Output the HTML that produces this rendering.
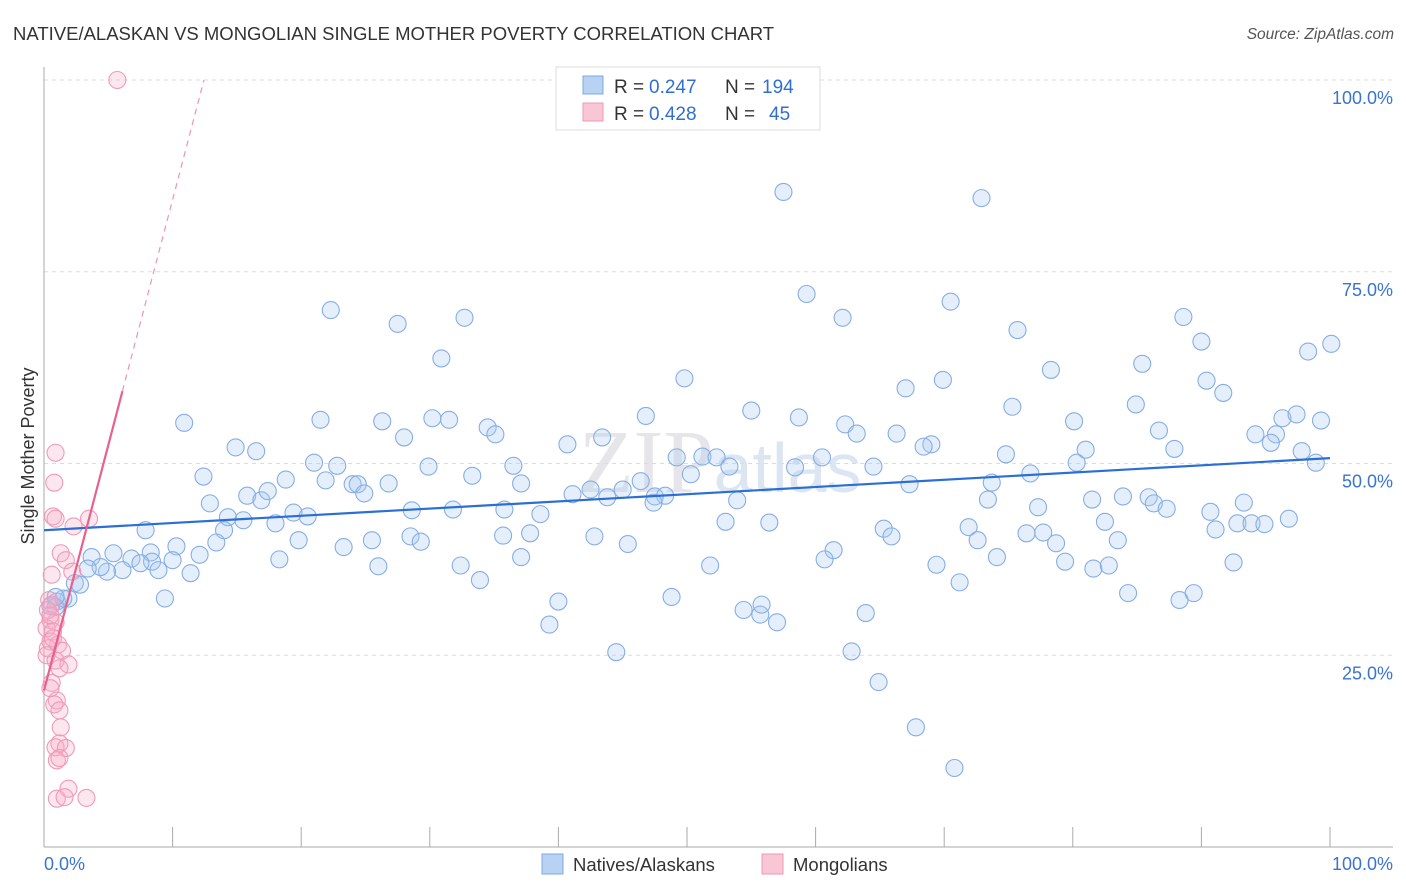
<!DOCTYPE html>
<html><head><meta charset="utf-8"><style>
body{margin:0;background:#fff;font-family:"Liberation Sans",sans-serif;}
svg{display:block}
</style></head><body>
<svg id="chart" width="1406" height="892">
<text x="13" y="40" font-size="18.5" fill="#333">NATIVE/ALASKAN VS MONGOLIAN SINGLE MOTHER POVERTY CORRELATION CHART</text>
<text x="1394" y="39" font-size="15.5" fill="#555" font-style="italic" text-anchor="end">Source: ZipAtlas.com</text>
<text x="720" y="492" font-size="90" fill="#e6e6ea" text-anchor="middle" font-family="Liberation Serif,serif">ZIP<tspan fill="#dce6f2" font-family="Liberation Sans,sans-serif" font-size="70">atlas</tspan></text>
<g id="grid"></g>
<g id="axes"></g>
<g id="marks"></g>
<text transform="translate(34,456) rotate(-90)" font-size="18" fill="#333" text-anchor="middle">Single Mother Poverty</text>
<g>
<rect x="556" y="67" width="264" height="63" fill="#fff" stroke="#ddd"/>
<rect x="583" y="76" width="20" height="18" fill="#b8d2f4" stroke="#7fa8e0"/>
<rect x="583" y="103" width="20" height="18" fill="#f9c6d6" stroke="#ee98b4"/>
<text x="614" y="93" font-size="19" fill="#333">R =</text>
<text x="649" y="93" font-size="19" fill="#2f6fd2">0.247</text>
<text x="725" y="93" font-size="19" fill="#333">N =</text>
<text x="762" y="93" font-size="19" fill="#2f6fd2">194</text>
<text x="614" y="120" font-size="19" fill="#333">R =</text>
<text x="649" y="120" font-size="19" fill="#2f6fd2">0.428</text>
<text x="725" y="120" font-size="19" fill="#333">N =</text>
<text x="769" y="120" font-size="19" fill="#2f6fd2">45</text>
</g>
<g>
<rect x="542" y="854" width="21" height="20" fill="#b8d2f4" stroke="#7fa8e0"/>
<text x="573" y="871" font-size="18.5" fill="#333">Natives/Alaskans</text>
<rect x="762" y="854" width="21" height="20" fill="#f9c6d6" stroke="#ee98b4"/>
<text x="793" y="871" font-size="18.5" fill="#333">Mongolians</text>
</g>
</svg>
<script>
const blueX=[57.5,72.9,22.3,27.5,32.7,59.3,70.5,62.1,75.7,88.6,90.0,98.3,100.1,30.9,49.8,69.9,78.3,85.4,90.4,91.7,67.0,75.3,84.9,80.1,96.3,97.4,99.3,10.9,21.5,26.3,30.2,31.5,28.0,34.5,35.1,46.8,55.0,58.7,62.3,63.2,66.3,69.0,68.4,86.7,94.2,95.8,95.4,97.8,98.9,87.9,81.0,80.3,14.9,16.5,43.4,40.7,49.2,51.2,52.3,53.3,50.3,58.4,60.5,64.5,74.8,76.7,21.0,22.8,12.4,18.8,21.9,24.0,24.4,24.9,33.3,29.9,36.5,37.1,26.8,15.8,16.9,17.4,12.9,28.6,31.8,35.8,38.6,41.1,42.5,43.8,45.0,46.4,47.5,48.3,47.4,53.9,67.3,73.7,73.4,81.5,83.9,85.9,86.3,87.3,90.7,93.3,77.3,14.3,15.5,19.4,20.5,18.0,14.0,13.4,7.9,12.1,10.3,8.3,19.8,23.3,25.5,28.5,29.3,35.7,37.8,42.8,45.4,53.0,56.4,65.3,65.9,71.9,72.6,76.4,77.7,78.7,82.5,83.5,91.1,92.8,93.9,94.9,96.8,3.7,5.4,6.8,8.4,7.5,6.1,4.9,4.4,3.4,10.0,8.9,11.4,18.3,26.0,32.4,37.1,33.9,61.4,60.7,74.1,79.4,81.6,82.8,69.4,71.2,51.8,92.5,2.4,2.8,1.9,1.0,0.5,0.9,9.4,40.0,48.8,54.4,55.7,55.8,57.0,63.9,84.3,88.3,89.4,39.3,44.5,62.8,64.9,67.8,70.8,1.5,0.9];
const blueY=[85.4,84.6,70.0,68.2,69.0,72.1,71.1,69.0,67.4,69.1,65.9,64.6,65.6,63.7,61.1,60.9,62.2,63.0,60.8,59.2,59.8,57.4,57.7,55.5,55.9,56.4,55.6,55.3,55.7,55.5,55.9,55.7,53.4,54.7,53.8,56.2,56.9,56.0,55.1,53.9,53.9,52.5,52.2,54.3,53.8,53.8,52.7,51.6,50.1,51.9,51.8,50.1,52.1,51.6,53.4,52.5,50.8,50.9,50.8,49.6,48.6,49.5,50.8,49.6,51.2,48.7,50.1,49.7,48.3,47.9,47.8,47.3,47.3,46.1,48.4,49.6,49.7,47.4,47.4,45.8,45.2,46.4,44.8,43.9,44.0,44.0,43.4,46.0,46.6,45.6,46.6,47.7,45.7,45.8,44.9,45.2,47.3,47.5,45.3,45.3,45.7,45.6,44.8,44.1,43.7,44.9,44.3,43.0,42.6,43.6,43.1,42.2,41.3,39.7,41.3,38.1,39.2,38.4,40.0,39.1,40.0,40.5,39.8,40.6,40.9,40.5,39.5,42.4,42.3,41.5,40.5,41.7,40.0,40.9,41.0,39.6,42.4,40.0,41.4,42.2,42.2,42.1,42.8,37.8,38.3,37.6,37.2,37.0,36.1,35.9,36.5,36.3,37.4,36.1,35.7,37.5,36.6,36.7,37.8,34.8,38.7,37.5,37.8,37.2,36.3,36.7,36.8,34.5,36.7,37.1,34.4,34.2,32.4,32.0,31.4,31.3,32.4,32.0,32.6,30.9,30.3,31.6,29.3,30.5,33.1,32.2,33.1,29.0,25.4,25.5,21.5,15.6,10.3,32.4,32.6];
const pinkX=[5.7,0.9,0.8,0.7,0.9,3.5,1.3,1.7,0.6,2.2,0.4,0.6,0.5,0.9,0.2,0.7,0.5,1.1,0.3,1.4,0.2,0.9,1.9,1.2,0.6,0.5,1.0,0.8,1.2,1.3,1.2,0.9,1.7,1.0,1.2,1.9,1.0,1.6,3.3,2.3,0.3,0.5,0.7];
const pinkY=[100.0,51.4,47.5,43.1,42.8,42.8,38.3,37.4,35.5,35.9,32.2,31.6,29.6,29.3,28.5,28.1,26.8,26.4,25.9,25.6,25.0,24.3,23.8,23.3,21.4,20.7,19.1,18.6,17.8,15.6,13.5,13.0,12.9,11.3,11.6,7.6,6.3,6.5,6.4,41.8,30.9,30.2,27.2];
const blueTrend=[41.3,50.7]; // y at x=0 and x=100
const pinkTrend=[20.4,6.4];  // intercept, slope
const yTicks=[25,50,75,100];
const xTickLabels=["0.0%","100.0%"];
const NS="http://www.w3.org/2000/svg";
const X0=44,X1=1330,Y0=847,Y100=80;
const sx=v=>X0+(X1-X0)*v/100, sy=v=>Y0-(Y0-Y100)*v/100;
function el(tag,attrs,parent,text){const e=document.createElementNS(NS,tag);for(const k in attrs)e.setAttribute(k,attrs[k]);if(text!=null)e.textContent=text;parent.appendChild(e);return e;}
const grid=document.getElementById('grid'),axes=document.getElementById('axes'),marks=document.getElementById('marks');
yTicks.forEach(t=>{
  const g=el('line',{x1:44,x2:1393,y1:sy(t),y2:sy(t),stroke:'#dcdcdc','stroke-dasharray':'4,4'},grid);
  
  
  const l=el('text',{x:1393,y:sy(t)+24,'font-size':18,fill:'#3a73d0','text-anchor':'end'},axes,t.toFixed(1)+'%');
  
  
});
const ya=el('line',{x1:44,x2:44,y1:67,y2:847,stroke:'#aaa'},axes);


const xa=el('line',{x1:44,x2:1393,y1:847,y2:847,stroke:'#aaa'},axes);


for(let i=0;i<=10;i++){const t=el('line',{x1:sx(i*10),x2:sx(i*10),y1:827,y2:847,stroke:'#aaa'},axes);
  
  }
const xl0=el('text',{x:44,y:870,'font-size':18,fill:'#3a73d0'},axes,xTickLabels[0]);


const xl1=el('text',{x:1393,y:870,'font-size':18,fill:'#3a73d0','text-anchor':'end'},axes,xTickLabels[1]);


blueX.forEach((x,i)=>{const c=el('circle',{cx:sx(x),cy:sy(blueY[i]),r:8.5,fill:'rgba(170,202,242,0.3)',stroke:'#86aee4','stroke-width':1.1},marks);
  
  });
pinkX.forEach((x,i)=>{const c=el('circle',{cx:sx(x),cy:sy(pinkY[i]),r:8.5,fill:'rgba(246,175,200,0.3)',stroke:'#f09ab8','stroke-width':1.1},marks);
  
  });
const bl=el('line',{x1:sx(0),y1:sy(blueTrend[0]),x2:sx(100),y2:sy(blueTrend[1]),stroke:'#2b6fd6','stroke-width':2.2},marks);


const pEnd=6.1, pTop=(100-pinkTrend[0])/pinkTrend[1];
const pl=el('line',{x1:sx(0),y1:sy(pinkTrend[0]),x2:sx(pEnd),y2:sy(pinkTrend[0]+pinkTrend[1]*pEnd),stroke:'#e8608c','stroke-width':2.2},marks);


const pd=el('line',{x1:sx(pEnd),y1:sy(pinkTrend[0]+pinkTrend[1]*pEnd),x2:sx(pTop),y2:sy(100),stroke:'#ee94b2','stroke-width':1.2,'stroke-dasharray':'6,5'},marks);


</script>
</body></html>
